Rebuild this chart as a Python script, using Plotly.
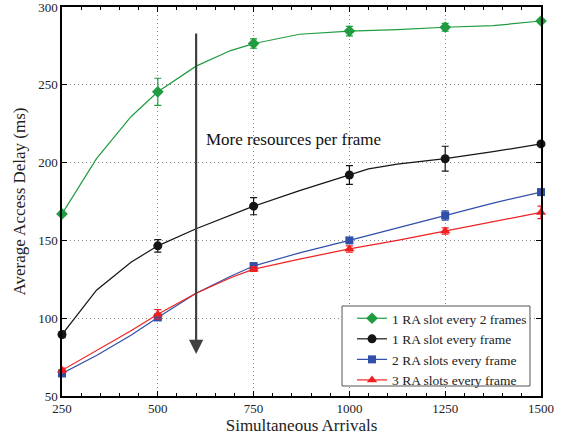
import plotly.graph_objects as go

# ---- data ----
marker_x = [250, 500, 750, 1000, 1250, 1500]

green_x = [250, 340, 430, 500, 600, 690, 750, 870, 1000, 1125, 1250, 1375, 1500]
green_y = [167, 202.5, 229.5, 245.5, 262, 272, 276.5, 282.5, 284.5, 285.5, 287, 288, 291]
green_err = [0, 8.7, 3, 3, 2.5, 1]

black_x = [250, 340, 430, 500, 600, 690, 750, 870, 1000, 1050, 1125, 1250, 1375, 1500]
black_y = [89.5, 118, 136, 146.5, 157.5, 166, 172, 182, 192, 196, 199, 202.5, 207, 212]
black_err = [2, 4, 5.5, 6, 8, 0]

blue_x = [250, 340, 430, 500, 600, 690, 750, 870, 1000, 1125, 1250, 1375, 1500]
blue_y = [64.5, 76, 89, 100.5, 116, 127, 133.5, 142, 150, 158, 166, 174, 181]
blue_err = [1, 1, 1.5, 1.5, 3, 2]

red_x = [250, 340, 430, 500, 600, 690, 750, 870, 1000, 1125, 1250, 1375, 1500]
red_y = [66.5, 79, 92, 102.5, 116, 126, 131.5, 138, 144.5, 150, 156, 162, 168]
red_err = [1.5, 3, 1.5, 2, 2, 4]

series = [
    ("1 RA slot every 2 frames", green_x, green_y, green_err, "#1f9c3f", "diamond", 9),
    ("1 RA slot every frame", black_x, black_y, black_err, "#151515", "circle", 9),
    ("2 RA slots every frame", blue_x, blue_y, blue_err, "#2f4fa8", "square", 8),
    ("3 RA slots every frame", red_x, red_y, red_err, "#f02020", "triangle-up", 9),
]

fig = go.Figure()
for name, xs, ys, errs, color, sym, size in series:
    fig.add_trace(go.Scatter(x=xs, y=ys, mode="lines", line=dict(color=color, width=1.2),
                             showlegend=False, hoverinfo="skip", cliponaxis=False))
    mx = [x for x in xs if x in marker_x]
    my = [y for x, y in zip(xs, ys) if x in marker_x]
    fig.add_trace(go.Scatter(x=mx, y=my, mode="markers",
                             marker=dict(color=color, symbol=sym, size=size),
                             error_y=dict(type="data", array=errs, color=color, thickness=1.2, width=3.5),
                             showlegend=False, cliponaxis=False))
    fig.add_trace(go.Scatter(x=[None], y=[None], mode="lines+markers", name=name,
                             line=dict(color=color, width=1.2),
                             marker=dict(color=color, symbol=sym, size=size)))

fig.add_annotation(x=600, y=77, ax=600, ay=284, xref="x", yref="y", axref="x", ayref="y",
                   showarrow=True, arrowhead=2, arrowsize=1.3, arrowwidth=2.2, arrowcolor="#404040",
                   text="")
fig.add_annotation(x=620, y=215, xref="x", yref="y", text="More resources per frame",
                   showarrow=False, xanchor="left", yanchor="middle",
                   font=dict(family="Liberation Serif", size=17, color="#111"))

# legend frame
fig.add_shape(type="rect", xref="paper", yref="paper", x0=0.5846, x1=0.977, y0=(396 - 386) / 389, y1=(396 - 306) / 389,
              fillcolor="white", line=dict(color="#555", width=1), layer="above")

axis_common = dict(showline=True, linecolor="black", linewidth=1.5, mirror="ticks",
                   ticks="inside", tickcolor="black", ticklen=5, automargin=False,
                   ticklabeloverflow="allow",
                   showgrid=True, gridcolor="#888", griddash="1px,3px", gridwidth=1,
                   zeroline=False,
                   tickfont=dict(family="Liberation Serif", size=13, color="#222"))

fig.update_xaxes(range=[250, 1500], dtick=250, tick0=250,
                 minor=dict(dtick=50, ticks="inside", ticklen=3, tickcolor="black", showgrid=False),
                 title=dict(text="Simultaneous Arrivals", font=dict(family="Liberation Serif", size=17, color="#222"), standoff=4),
                 **axis_common)
fig.update_yaxes(range=[50, 300], dtick=50, tick0=50,
                 title=dict(text="Average Access Delay (ms)", font=dict(family="Liberation Serif", size=17, color="#222"), standoff=8),
                 **axis_common)

fig.update_layout(
    width=567, height=439,
    margin=dict(l=62, r=26, t=7, b=43),
    plot_bgcolor="white", paper_bgcolor="white",
    font=dict(family="Liberation Serif"),
    legend=dict(x=(352 - 62) / 479, y=(396 - 303) / 389, xanchor="left", yanchor="top",
                bgcolor="rgba(0,0,0,0)", borderwidth=0,
                font=dict(family="Liberation Serif", size=13.5, color="#222"),
                tracegroupgap=0, itemwidth=30),
)

fig.write_html("out.html")
